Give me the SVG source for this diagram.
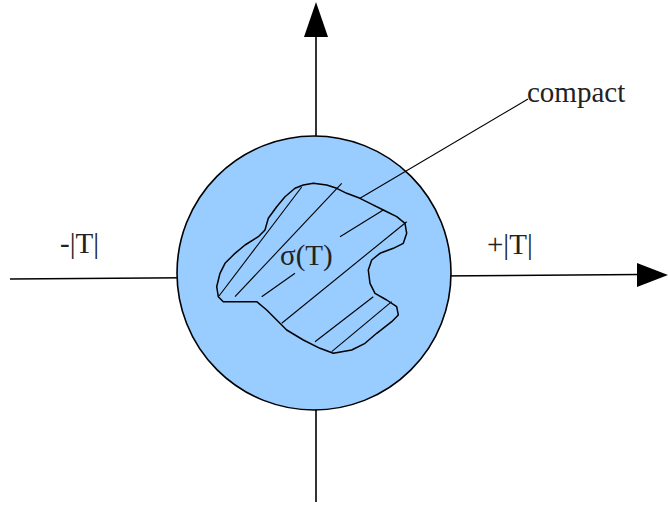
<svg xmlns="http://www.w3.org/2000/svg" width="668" height="507" viewBox="0 0 668 507">
<style>
.ax{stroke:#000;stroke-width:1.6;fill:none}
.hd{fill:#000;stroke:none}
.lbl{font-family:"Liberation Serif","Times New Roman",serif;font-size:29px;fill:#222}
.hatch{stroke:#000;stroke-width:1.1;fill:none}
</style>
<rect width="668" height="507" fill="#fff"/>
<g id="connectors">
  <line class="ax" x1="10" y1="279" x2="640" y2="274.5"/>
  <polygon class="hd" points="668,275 637,263 637,287"/>
  <line class="ax" x1="316" y1="502" x2="316" y2="35"/>
  <polygon class="hd" points="316,2 304,37 328,37"/>
</g>
<g id="disc">
  <circle cx="314" cy="273" r="137" fill="#99ccff" stroke="#000" stroke-width="1.6"/>
</g>
<g id="spectrum">
  <path d="M295,188.3 L303.3,185 L313.3,183.3 L326.7,185 L336.7,188.3 L346.7,193.3 L360,198.3 L370,203.3 L383.3,210 L396.7,216.7 L405,223.3 L406.7,233.3 L403.3,243.3 L393.3,248.3 L380,253.3 L371.7,260 L368.3,270 L370,283.3 L375,293.3 L386.7,300 L396.7,306.7 L398.3,315 L391.7,321.7 L376.7,333.3 L365,343.3 L351.7,350 L333.3,353.3 L320,348.3 L303.3,340 L286.7,330 L276.7,320 L266.7,310 L256.7,301.7 L236.7,301.7 L223.3,301.7 L218.3,296.7 L216.7,286.7 L220,273.3 L225,263.3 L235,253.3 L245,245 L258.3,236.7 L265,230 L268.3,218.3 L276.7,206.7 L285,196.7 Z" fill="none" stroke="#000" stroke-width="1.5" stroke-linejoin="round"/>
  <line class="hatch" x1="301.7" y1="187" x2="219" y2="296"/>
  <line class="hatch" x1="341.7" y1="183.3" x2="235" y2="296.7"/>
  <line class="hatch" x1="383.3" y1="210" x2="340" y2="236.7"/>
  <line class="hatch" x1="295" y1="273.3" x2="261.7" y2="296.7"/>
  <line class="hatch" x1="406.7" y1="221.7" x2="281.7" y2="323.3"/>
  <line class="hatch" x1="373.3" y1="296.7" x2="315" y2="341.7"/>
  <line class="hatch" x1="391.7" y1="301.7" x2="331.7" y2="351.7"/>
  <text class="lbl" x="280" y="265">σ(T)</text>
</g>
<g id="compact-label">
  <line class="hatch" x1="360" y1="198.3" x2="528" y2="99"/>
  <text class="lbl" x="527" y="102">compact</text>
</g>
<g id="minus-label">
  <text class="lbl" x="60" y="253">-|T|</text>
</g>
<g id="plus-label">
  <text class="lbl" x="487" y="254">+|T|</text>
</g>
</svg>
